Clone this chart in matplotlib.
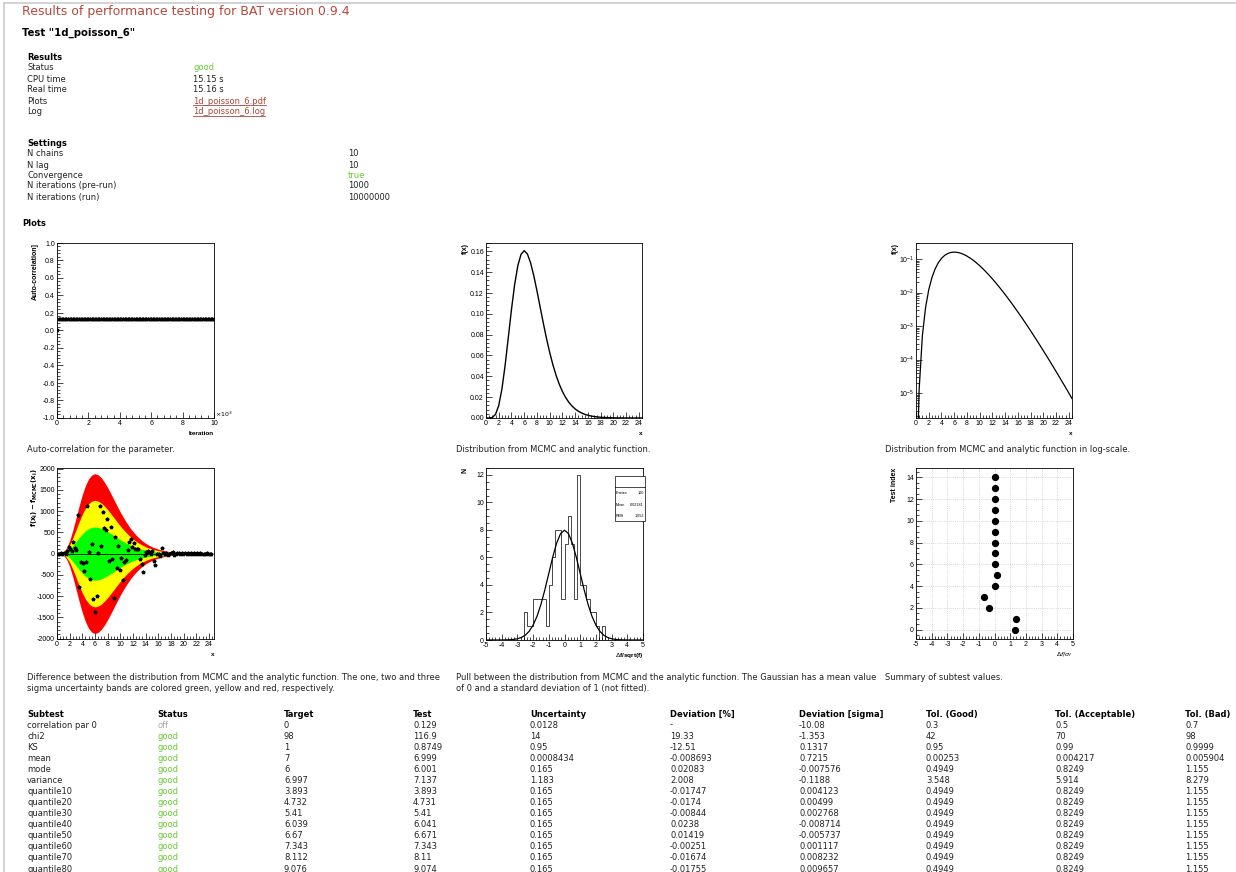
import numpy as np
import matplotlib
matplotlib.use("Agg")
import matplotlib.pyplot as plt
from matplotlib.ticker import MultipleLocator, FormatStrFormatter, LogLocator, NullFormatter
from matplotlib.lines import Line2D
from matplotlib.patches import Rectangle

plt.rcParams['font.family'] = ['Liberation Sans', 'DejaVu Sans']
plt.rcParams['axes.unicode_minus'] = False

# ---------------- data ----------------
title = "Results of performance testing for BAT version 0.9.4"
test_name = 'Test "1d_poisson_6"'
results_labels = ["Status", "CPU time", "Real time", "Plots", "Log"]
results_values = ["good", "15.15 s", "15.16 s", "1d_poisson_6.pdf", "1d_poisson_6.log"]
settings_labels = ["N chains", "N lag", "Convergence", "N iterations (pre-run)", "N iterations (run)"]
settings_values = ["10", "10", "true", "1000", "10000000"]

# auto-correlation (iteration in units of 10^3)
ac_iter = [0.0] + list(np.arange(0.1, 10.01, 0.1))
ac_values = [0.0] + [0.129] * 100

# analytic / MCMC distribution f(x)
x_grid = [0, 0.25, 0.5, 1, 1.5, 2, 2.5, 3, 3.5, 4, 4.5, 5, 5.5, 6, 6.5, 7, 7.5, 8, 8.5, 9, 9.5,
          10, 10.5, 11, 11.5, 12, 12.5, 13, 13.5, 14, 14.5, 15, 15.5, 16, 16.5, 17, 17.5, 18,
          18.5, 19, 19.5, 20, 20.5, 21, 21.5, 22, 22.5, 23, 23.5, 24, 24.5]
f_vals = [0, 2.64e-7, 1.316e-5, 5.109e-4, 3.530e-3, 0.01203, 0.02783, 0.05041, 0.07710, 0.10420,
          0.12812, 0.14622, 0.15712, 0.16062, 0.15748, 0.14900, 0.13672, 0.12214, 0.10658,
          0.09109, 0.07642, 0.06306, 0.05125, 0.04109, 0.03254, 0.02548, 0.01974, 0.01515,
          0.01153, 0.008696, 0.006510, 0.004839, 0.003567, 0.002622, 0.001913, 0.001388,
          0.001002, 7.194e-4, 5.143e-4, 3.661e-4, 2.595e-4, 1.832e-4, 1.289e-4, 9.032e-5,
          6.309e-5, 4.393e-5, 3.049e-5, 2.110e-5, 1.456e-5, 1.002e-5, 6.878e-6]
# one-sigma band of the difference (two and three sigma are its multiples)
sigma1 = [0, 0.1, 1, 11, 43, 102, 184, 279, 375, 463, 535, 587, 617, 627, 618, 595, 560, 518,
          471, 422, 373, 326, 282, 242, 205, 173, 145, 120, 99, 81, 66, 54, 44, 35, 28, 23, 18,
          14, 11, 9, 7, 5.5, 4.3, 3.3, 2.6, 2.0, 1.5, 1.2, 0.9, 0.7, 0.5]

# difference points f(x_i) - f_MCMC(x_i), 100 bins over [0, 24.5]
diff_edges = np.linspace(0, 24.5, 101)
diff_x = 0.5 * (diff_edges[:-1] + diff_edges[1:])
diff_y = [0, -2, 3, -5, 10, -15, 60, 150, 120, 50, 270, 140, 80, 900, -780, -200, -230, -400,
          -200, 1130, 40, -590, 230, -1080, -1380, -990, 20, 1130, 180, 980, 600, 560, 820,
          -170, 620, -130, -1040, 390, -350, 180, -390, -100, -620, -200, -150, 80, 280, 350,
          160, 250, 120, 100, 100, -120, -240, -430, -40, 40, 50, 30, 0, 50, -180, -260, -20,
          0, -60, 130, 20, -10, 20, -40, -15, 15, 40, -25, -10, 5, 20, -15, 10, -20, 15, -5, 8,
          -10, 12, -6, 4, -8, 5, -3, 6, -4, 2, -3, 3, -2, 1, -1]

# pull histogram, 50 bins over [-5, 5]
pull_edges = np.linspace(-5, 5, 51)
pull_counts = [0] * 12 + [2, 1, 1, 3, 3, 3, 3, 1, 4, 6, 8, 8, 3, 7, 9, 7, 3, 12, 4, 4, 3, 2, 2, 1,
                          0, 1] + [0] * 12
gauss_x = list(np.arange(-5, 5.01, 0.25))
gauss_y = [0.00003, 0.0001, 0.00032, 0.00095, 0.00267, 0.00705, 0.01745, 0.0406, 0.0886, 0.1818,
           0.3506, 0.635, 1.080, 1.726, 2.590, 3.653, 4.839, 6.023, 7.042, 7.734, 7.979, 7.734,
           7.042, 6.023, 4.839, 3.653, 2.590, 1.726, 1.080, 0.635, 0.3506, 0.1818, 0.0886,
           0.0406, 0.01745, 0.00705, 0.00267, 0.00095, 0.00032, 0.0001, 0.00003]
stats_labels = ["Entries", "Mean", "RMS"]
stats_values = ["100", "0.02181", "1.052"]

# summary of subtests
summary_dev = [1.28, 1.36, -0.38, -0.70, 0.0, 0.13, 0.02, 0.0, 0.01, 0.04, 0.0, 0.0, 0.0, 0.0, 0.03]
summary_idx = list(range(15))

captions = [
    ["Auto-correlation for the parameter."],
    ["Distribution from MCMC and analytic function."],
    ["Distribution from MCMC and analytic function in log-scale."],
    ["Difference between the distribution from MCMC and the analytic function. The one, two and three",
     "sigma uncertainty bands are colored green, yellow and red, respectively."],
    ["Pull between the distribution from MCMC and the analytic function. The Gaussian has a mean value",
     "of 0 and a standard deviation of 1 (not fitted)."],
    ["Summary of subtest values."],
]

table_header = ["Subtest", "Status", "Target", "Test", "Uncertainty", "Deviation [%]",
                "Deviation [sigma]", "Tol. (Good)", "Tol. (Acceptable)", "Tol. (Bad)"]
subtests = ["correlation par 0", "chi2", "KS", "mean", "mode", "variance", "quantile10",
            "quantile20", "quantile30", "quantile40", "quantile50", "quantile60", "quantile70",
            "quantile80"]
status = ["off"] + ["good"] * 13
target = ["0", "98", "1", "7", "6", "6.997", "3.893", "4.732", "5.41", "6.039", "6.67", "7.343",
          "8.112", "9.076"]
test_vals = ["0.129", "116.9", "0.8749", "6.999", "6.001", "7.137", "3.893", "4.731", "5.41",
             "6.041", "6.671", "7.343", "8.11", "9.074"]
uncert = ["0.0128", "14", "0.95", "0.0008434", "0.165", "1.183"] + ["0.165"] * 8
dev_pct = ["-", "19.33", "-12.51", "-0.008693", "0.02083", "2.008", "-0.01747", "-0.0174",
           "-0.00844", "0.0238", "0.01419", "-0.00251", "-0.01674", "-0.01755"]
dev_sigma = ["-10.08", "-1.353", "0.1317", "0.7215", "-0.007576", "-0.1188", "0.004123",
             "0.00499", "0.002768", "-0.008714", "-0.005737", "0.001117", "0.008232", "0.009657"]
tol_good = ["0.3", "42", "0.95", "0.00253", "0.4949", "3.548"] + ["0.4949"] * 8
tol_acc = ["0.5", "70", "0.99", "0.004217", "0.8249", "5.914"] + ["0.8249"] * 8
tol_bad = ["0.7", "98", "0.9999", "0.005904", "1.155", "8.279"] + ["1.155"] * 8

# ---------------- layout helpers ----------------
W, H = 1236, 872
fig = plt.figure(figsize=(W / 100, H / 100), dpi=100)
fig.patch.set_facecolor('white')

def fx(x):
    return x / W

def fy(y):
    return 1 - y / H

PAGE = 'DejaVu Sans'
GREEN = '#66cc33'
LINK = '#b0463b'

def txt(x, y, s, size=6, weight='normal', color='#222222', ha='left'):
    return fig.text(fx(x), fy(y), s, ha=ha, va='center', fontsize=size, fontweight=weight,
                    color=color, family=PAGE)

# page border
fig.add_artist(Line2D([fx(4), fx(4)], [fy(3), fy(872)], color='#cccccc', lw=1.2))
fig.add_artist(Line2D([fx(4), fx(1236)], [fy(3), fy(3)], color='#cccccc', lw=1.2))

txt(22, 12, title, size=9, color='#b5483c')
txt(22, 33, test_name, size=7.3, weight='bold', color='black')

txt(27, 57, "Results", weight='bold', color='black')
res_y = [68, 79, 90, 101, 112]
links = []
for lab, val, y in zip(results_labels, results_values, res_y):
    txt(27, y, lab)
    if val == "good":
        txt(193, y, val, color=GREEN)
    elif val.endswith(".pdf") or val.endswith(".log"):
        links.append((txt(193, y, val, color=LINK), y))
    else:
        txt(193, y, val)

txt(27, 143, "Settings", weight='bold', color='black')
set_y = [154, 165, 175, 186, 197]
for lab, val, y in zip(settings_labels, settings_values, set_y):
    txt(27, y, lab)
    txt(348, y, val, color=GREEN if val == "true" else '#222222')

txt(22, 224, "Plots", weight='bold', color='black')

# ---------------- ROOT-like axes ----------------
def root_axes(l, r, t, b):
    ax = fig.add_axes([l / W, 1 - b / H, (r - l) / W, (b - t) / H])
    ax.tick_params(which='both', direction='in', top=False, right=False, labelsize=5,
                   pad=1.5, width=0.5)
    ax.tick_params(which='major', length=4)
    ax.tick_params(which='minor', length=2)
    for s in ax.spines.values():
        s.set_linewidth(0.6)
    return ax

def ytitle(xpix, top, s):
    fig.text(fx(xpix), fy(top), s, rotation=90, ha='center', va='top', fontsize=5,
             fontweight='bold')

def xtitle(right, ypix, s):
    fig.text(fx(right), fy(ypix), s, ha='right', va='center', fontsize=4.6, fontweight='bold')

# plot 1: auto-correlation
ax1 = root_axes(57, 214, 243, 418)
ax1.plot(ac_iter, ac_values, ls='none', marker='*', ms=2.6, color='black')
ax1.set_xlim(0, 10)
ax1.set_ylim(-1, 1)
ax1.xaxis.set_major_locator(MultipleLocator(2))
ax1.xaxis.set_minor_locator(MultipleLocator(0.4))
ax1.yaxis.set_major_locator(MultipleLocator(0.2))
ax1.yaxis.set_minor_locator(MultipleLocator(0.04))
ax1.yaxis.set_major_formatter(FormatStrFormatter('%.1f'))
ytitle(35, 243, "Auto-correlation]")
xtitle(214, 433, "Iteration")
fig.text(fx(215), fy(414), r'$\times10^{3}$', ha='left', va='center', fontsize=4.5)

# plot 2: distribution
ax2 = root_axes(486, 642, 243, 418)
ax2.plot(x_grid, f_vals, color='black', lw=1.0)
ax2.set_xlim(0, 24.5)
ax2.set_ylim(0, 0.168)
ax2.xaxis.set_major_locator(MultipleLocator(2))
ax2.xaxis.set_minor_locator(MultipleLocator(0.5))
ax2.yaxis.set_major_locator(MultipleLocator(0.02))
ax2.yaxis.set_minor_locator(MultipleLocator(0.004))
ax2.yaxis.set_major_formatter(FormatStrFormatter('%.2f'))
ytitle(465, 243, "f(x)")
xtitle(642, 433, "x")

# plot 3: log-scale distribution
ax3 = root_axes(916, 1072, 243, 418)
ax3.plot(x_grid, f_vals, color='black', lw=0.9)
ax3.set_yscale('log')
ax3.set_xlim(0, 24.5)
ax3.set_ylim(1.8e-6, 0.3)
ax3.xaxis.set_major_locator(MultipleLocator(2))
ax3.xaxis.set_minor_locator(MultipleLocator(0.5))
ax3.yaxis.set_major_locator(LogLocator(base=10, numticks=10))
ax3.yaxis.set_minor_locator(LogLocator(base=10, subs=np.arange(2, 10), numticks=10))
ax3.yaxis.set_minor_formatter(NullFormatter())
ax3.tick_params(which='both', direction='in', top=False, right=False)
ytitle(895, 243, "f(x)")
xtitle(1072, 433, "x")

# plot 4: difference with sigma bands
ax4 = root_axes(57, 214, 468, 639)
s1 = np.array(sigma1)
ax4.fill_between(x_grid, -3 * s1, 3 * s1, color='#ff0000', lw=0)
ax4.fill_between(x_grid, -2 * s1, 2 * s1, color='#ffff00', lw=0)
ax4.fill_between(x_grid, -1 * s1, 1 * s1, color='#00ff00', lw=0)
ax4.plot([0, 24.5], [0, 0], color='black', lw=0.6)
ax4.plot(diff_x, diff_y, ls='none', marker='*', ms=2.6, color='black')
ax4.set_xlim(0, 24.8)
ax4.set_ylim(-2010, 2015)
ax4.xaxis.set_major_locator(MultipleLocator(2))
ax4.xaxis.set_minor_locator(MultipleLocator(0.5))
ax4.yaxis.set_major_locator(MultipleLocator(500))
ax4.yaxis.set_minor_locator(MultipleLocator(100))
ytitle(35, 468, r'$\mathbf{f(x_{i})-f_{MCMC}(x_{i})}$')
xtitle(214, 654, "x")

# plot 5: pull histogram
ax5 = root_axes(486, 643, 468, 640)
ax5.stairs(pull_counts, pull_edges, color='black', lw=0.5, baseline=0)
ax5.plot(gauss_x, gauss_y, color='black', lw=0.9)
ax5.set_xlim(-5, 5)
ax5.set_ylim(0, 12.5)
ax5.xaxis.set_major_locator(MultipleLocator(1))
ax5.xaxis.set_minor_locator(MultipleLocator(0.2))
ax5.yaxis.set_major_locator(MultipleLocator(2))
ax5.yaxis.set_minor_locator(MultipleLocator(0.5))
ytitle(465, 468, "N")
xtitle(643, 655, r'$\Delta$f/sqrt(f)')
# stats box
fig.add_artist(Rectangle((fx(615), fy(521)), (645 - 615) / W, (521 - 476) / H,
                         facecolor='white', edgecolor='black', lw=0.5))
fig.add_artist(Line2D([fx(615), fx(645)], [fy(487), fy(487)], color='black', lw=0.5))
for lab, val, y in zip(stats_labels, stats_values, [493, 505, 516]):
    fig.text(fx(616), fy(y), lab, ha='left', va='center', fontsize=2.7)
    fig.text(fx(644), fy(y), val, ha='right', va='center', fontsize=2.7)

# plot 6: summary
ax6 = root_axes(916, 1073, 468, 639)
ax6.set_axisbelow(True)
ax6.grid(True, which='major', color='#bbbbbb', ls=':', lw=0.5)
ax6.plot(summary_dev, summary_idx, ls='none', marker='o', ms=4.2, color='black')
ax6.set_xlim(-5, 5)
ax6.set_ylim(-0.85, 14.85)
ax6.xaxis.set_major_locator(MultipleLocator(1))
ax6.xaxis.set_minor_locator(MultipleLocator(0.2))
ax6.yaxis.set_major_locator(MultipleLocator(2))
ax6.yaxis.set_minor_locator(MultipleLocator(0.5))
ytitle(895, 468, "Test index")
xtitle(1073, 655, r'$\Delta f/\sigma_{f}$')

# captions
cap_pos = [(27, 449), (456, 449), (885, 449), (27, 677), (456, 677), (885, 677)]
for lines, (cx, cy) in zip(captions, cap_pos):
    for k, line in enumerate(lines):
        txt(cx, cy + 11 * k, line)

# table
col_x = [27, 157, 284, 413, 530, 670, 799, 926, 1055, 1185]
for cx, h in zip(col_x, table_header):
    txt(cx, 714, h, weight='bold', color='black')
columns = [subtests, status, target, test_vals, uncert, dev_pct, dev_sigma, tol_good, tol_acc, tol_bad]
for i in range(len(subtests)):
    y = 725 + 11.08 * i
    for c, (cx, col) in enumerate(zip(col_x, columns)):
        val = col[i]
        color = '#222222'
        if c == 1:
            color = GREEN if val == "good" else '#aaaaaa'
        txt(cx, y, val, color=color)

# underline links
fig.canvas.draw()
renderer = fig.canvas.get_renderer()
for t, y in links:
    bb = t.get_window_extent(renderer)
    x0, x1 = bb.x0, bb.x1
    fig.add_artist(Line2D([x0 / W, x1 / W], [fy(y + 4), fy(y + 4)], color=LINK, lw=0.6))

fig.savefig("out.png", dpi=100)
